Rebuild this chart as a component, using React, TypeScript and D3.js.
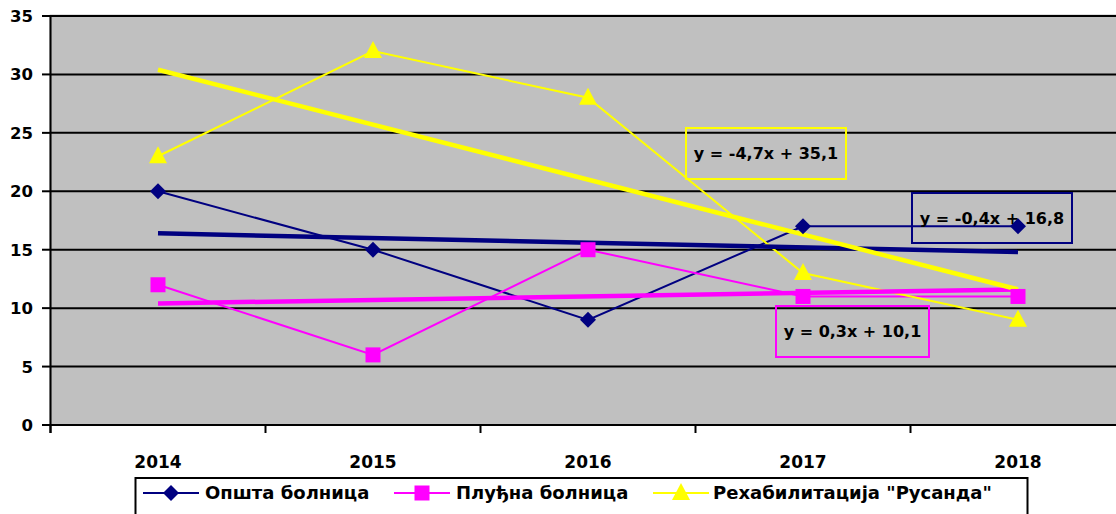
import React from 'react';
import * as d3 from 'd3';

const years = ['2014', '2015', '2016', '2017', '2018'];
const opsta = [20, 15, 9, 17, 17];
const plucna = [12, 6, 15, 11, 11];
const rusanda = [23, 32, 28, 13, 9];
const yTicks = [0, 5, 10, 15, 20, 25, 30, 35];

const seriesNames = ['Општа болница', 'Плуђна болница', 'Рехабилитација "Русанда"'];

const W = 1116;
const H = 514;
const FONT = 'DejaVu Sans, sans-serif';

// least squares line over x = 1..n, as Excel does for a trendline
const fit = (vals: number[]) => {
  const xs = vals.map((_, i) => i + 1);
  const mx = d3.mean(xs)!;
  const my = d3.mean(vals)!;
  const slope = d3.sum(xs, (x, i) => (x - mx) * (vals[i] - my)) / d3.sum(xs, (x) => (x - mx) ** 2);
  return { slope, icpt: my - slope * mx };
};

const fmt = (v: number) => v.toFixed(1).replace('.', ',');
const eqText = (f: { slope: number; icpt: number }) =>
  `y = ${fmt(f.slope)}x ${f.icpt < 0 ? '-' : '+'} ${fmt(Math.abs(f.icpt))}`;

const App = () => {
  const x = d3.scaleBand().domain(years).range([50.5, 1125.5]);
  const cx = (d: string) => x(d)! + x.bandwidth() / 2;
  const y = d3.scaleLinear().domain([0, 35]).range([425, 16]);

  const series = [
    { name: seriesNames[0], vals: opsta, color: '#000080', marker: 'diamond', box: { x: 912, y: 193, w: 160, h: 50 } },
    { name: seriesNames[1], vals: plucna, color: '#FF00FF', marker: 'square', box: { x: 776, y: 306, w: 153, h: 51 } },
    { name: seriesNames[2], vals: rusanda, color: '#FFFF00', marker: 'triangle', box: { x: 686, y: 128, w: 160, h: 51 } },
  ];

  const line = d3
    .line<number>()
    .x((_, i) => cx(years[i]))
    .y((d) => y(d));

  const marker = (type: string, px: number, py: number, color: string, key: string) => {
    if (type === 'diamond') {
      const s = 8;
      return <path key={key} d={`M${px},${py - s}L${px + s},${py}L${px},${py + s}L${px - s},${py}Z`} fill={color} />;
    }
    if (type === 'square') {
      return <rect key={key} x={px - 7.5} y={py - 7.5} width={15} height={15} fill={color} />;
    }
    return <path key={key} d={`M${px},${py - 10}L${px + 9},${py + 7}L${px - 9},${py + 7}Z`} fill={color} />;
  };

  const legendItems = [
    { x: 143, textX: 205 },
    { x: 394, textX: 456 },
    { x: 653, textX: 713 },
  ];

  return (
    <svg width={W} height={H} style={{ position: 'absolute', left: 0, top: 0, display: 'block' }}>
      <rect x={0} y={0} width={W} height={H} fill="#fff" />
      {/* plot area */}
      <rect x={50.5} y={15.5} width={1080} height={409.5} fill="#C0C0C0" stroke="#808080" strokeWidth={1.5} />
      {yTicks.map((t) => (
        <g key={t}>
          <line x1={50} x2={1116} y1={y(t)} y2={y(t)} stroke="#000" strokeWidth={2} />
          <line x1={42} x2={51} y1={y(t)} y2={y(t)} stroke="#000" strokeWidth={2} />
          <text x={33} y={y(t)} dy="0.36em" textAnchor="end" fontFamily={FONT} fontWeight="bold" fontSize={16.5}>
            {t}
          </text>
        </g>
      ))}
      <line x1={50.5} x2={50.5} y1={16} y2={433} stroke="#000" strokeWidth={2} />
      {years.map((yr) => (
        <g key={yr}>
          <line x1={x(yr)!} x2={x(yr)!} y1={425} y2={433} stroke="#000" strokeWidth={2} />
          <text x={cx(yr)} y={462} dy="0.36em" textAnchor="middle" fontFamily={FONT} fontWeight="bold" fontSize={17}>
            {yr}
          </text>
        </g>
      ))}

      {/* series lines */}
      {series.map((s) => (
        <path key={s.name} d={line(s.vals)!} fill="none" stroke={s.color} strokeWidth={2} />
      ))}
      {/* trendlines */}
      {series.map((s) => {
        const f = fit(s.vals);
        const n = s.vals.length;
        return (
          <line
            key={s.name + 't'}
            x1={cx(years[0])}
            x2={cx(years[n - 1])}
            y1={y(f.slope * 1 + f.icpt)}
            y2={y(f.slope * n + f.icpt)}
            stroke={s.color}
            strokeWidth={4.5}
          />
        );
      })}
      {/* markers */}
      {series.map((s) => s.vals.map((v, i) => marker(s.marker, cx(years[i]), y(v), s.color, s.name + i)))}

      {/* trendline equations */}
      {series.map((s) => (
        <g key={s.name + 'eq'}>
          <rect x={s.box.x} y={s.box.y} width={s.box.w} height={s.box.h} fill="none" stroke={s.color} strokeWidth={2} />
          <text
            x={s.box.x + s.box.w / 2}
            y={s.box.y + s.box.h / 2}
            dy="0.36em"
            textAnchor="middle"
            fontFamily={FONT}
            fontWeight="bold"
            fontSize={16}
          >
            {eqText(fit(s.vals))}
          </text>
        </g>
      ))}

      {/* legend */}
      <rect x={135.5} y={478} width={892} height={40} fill="#fff" stroke="#000" strokeWidth={2} />
      {series.map((s, i) => {
        const it = legendItems[i];
        return (
          <g key={s.name + 'lg'}>
            <line x1={it.x} x2={it.x + 56} y1={493} y2={493} stroke={s.color} strokeWidth={2} />
            {marker(s.marker, it.x + 28, 493, s.color, s.name + 'lm')}
            <text x={it.textX} y={493} dy="0.36em" fontFamily={FONT} fontWeight="bold" fontSize={18}>
              {s.name}
            </text>
          </g>
        );
      })}
    </svg>
  );
};

export default App;
